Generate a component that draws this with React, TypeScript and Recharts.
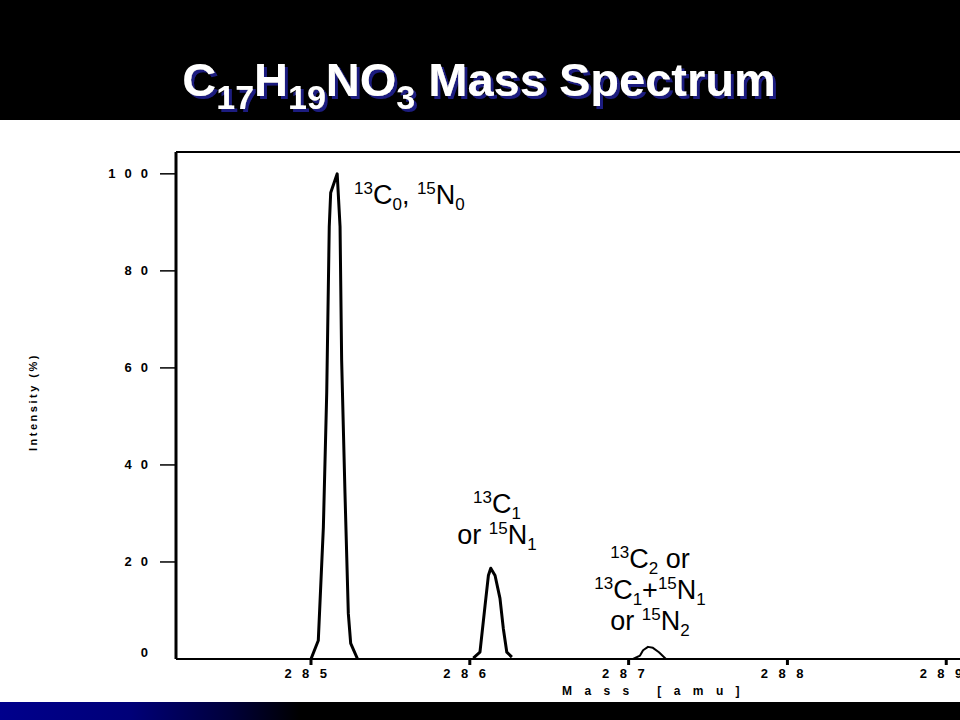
import React from "react";
import { LineChart, Line, XAxis, YAxis, ReferenceLine } from "recharts";

// peak traces (mass in amu, intensity in %)
const peak285Mass = [285.0, 285.046, 285.078, 285.099, 285.115, 285.124, 285.165, 285.183, 285.193, 285.214, 285.235, 285.25, 285.292];
const peak285Intensity = [0, 3.8, 27.2, 54.8, 89.1, 96.1, 100, 89.1, 61.6, 34.2, 9.4, 3.2, 0.1];

const peak286Mass = [286.022, 286.064, 286.096, 286.117, 286.132, 286.159, 286.19, 286.211, 286.233, 286.265];
const peak286Intensity = [0.2, 1.4, 11.0, 17.2, 18.7, 17.2, 12.5, 6.3, 1.4, 0.4];

const peak287Mass = [287.028, 287.072, 287.091, 287.122, 287.153, 287.191, 287.235];
const peak287Intensity = [0, 0.7, 1.8, 2.5, 2.3, 1.4, 0];

const massTicks = [285, 286, 287, 288, 289];
const intensityTicks = [0, 20, 40, 60, 80, 100];
const massDomain = [284.15, 289.2];
const intensityDomain = [0, 104.5];

type Seg = [string, "n" | "sup" | "sub"];

const label285: Seg[][] = [[["13", "sup"], ["C", "n"], ["0", "sub"], [", ", "n"], ["15", "sup"], ["N", "n"], ["0", "sub"]]];
const label286: Seg[][] = [
  [["13", "sup"], ["C", "n"], ["1", "sub"]],
  [["or ", "n"], ["15", "sup"], ["N", "n"], ["1", "sub"]],
];
const label287: Seg[][] = [
  [["13", "sup"], ["C", "n"], ["2", "sub"], [" or", "n"]],
  [["13", "sup"], ["C", "n"], ["1", "sub"], ["+", "n"], ["15", "sup"], ["N", "n"], ["1", "sub"]],
  [["or ", "n"], ["15", "sup"], ["N", "n"], ["2", "sub"]],
];

const toPoints = (mass: number[], intensity: number[]) =>
  mass.map((m, i) => ({ mass: m, intensity: intensity[i] }));

const FONT = "'Liberation Sans', Arial, sans-serif";
const PLOT_LEFT = 176;
const PLOT_BOTTOM = 659;

const RichText = ({ x, y, segs, anchor = "start" }: { x: number; y: number; segs: Seg[]; anchor?: string }) => {
  let cur = 0;
  return (
    <text x={x} y={y} textAnchor={anchor} fontSize={27} fontFamily={FONT} fill="#000" style={{ whiteSpace: "pre" }}>
      {segs.map(([t, k], i) => {
        const target = k === "sup" ? -10 : k === "sub" ? 6 : 0;
        const dy = target - cur;
        cur = target;
        return (
          <tspan key={i} dy={dy} fontSize={k === "n" ? 27 : 17}>
            {t}
          </tspan>
        );
      })}
    </text>
  );
};

const IntensityTick = (props: any) => {
  const { y, payload } = props;
  const zero = payload.value === 0;
  return (
    <g>
      {!zero && <line x1={PLOT_LEFT - 16} x2={PLOT_LEFT} y1={y} y2={y} stroke="#000" strokeWidth={1.5} />}
      <text
        x={PLOT_LEFT - 19}
        y={y + (zero ? -2 : 4)}
        textAnchor="end"
        fontSize={13}
        fontWeight="bold"
        fontFamily={FONT}
        letterSpacing={9}
        fill="#000"
      >
        {payload.value}
      </text>
    </g>
  );
};

const MassTick = (props: any) => {
  const { x, payload } = props;
  return (
    <g>
      <line x1={x} x2={x} y1={PLOT_BOTTOM} y2={PLOT_BOTTOM + 6} stroke="#000" strokeWidth={3} />
      <text
        x={x}
        y={PLOT_BOTTOM + 19}
        textAnchor="middle"
        fontSize={13}
        fontWeight="bold"
        fontFamily={FONT}
        letterSpacing={10.5}
        fill="#000"
      >
        {payload.value}
      </text>
    </g>
  );
};

const Title = () => {
  const segs: Seg[] = [
    ["C", "n"], ["17", "sub"], ["H", "n"], ["19", "sub"], ["N", "n"], ["O", "n"], ["3", "sub"], [" Mass Spectrum", "n"],
  ];
  let cur = 0;
  return (
    <svg width={960} height={120} style={{ position: "absolute", left: 0, top: 0 }}>
      <defs>
        <filter id="titleShadow" x="-5%" y="-20%" width="110%" height="150%">
          <feDropShadow dx={3} dy={3} stdDeviation={0.6} floodColor="#1a1a80" floodOpacity={1} />
        </filter>
      </defs>
      <text
        x={479}
        y={96}
        textAnchor="middle"
        fontSize={47}
        fontWeight="bold"
        fontFamily={FONT}
        fill="#fff"
        filter="url(#titleShadow)"
        style={{ whiteSpace: "pre" }}
      >
        {segs.map(([t, k], i) => {
          const target = k === "sub" ? 13 : 0;
          const dy = target - cur;
          cur = target;
          return (
            <tspan key={i} dy={dy} fontSize={k === "sub" ? 34 : 47}>
              {t}
            </tspan>
          );
        })}
      </text>
    </svg>
  );
};

export default function App() {
  return (
    <div
      style={{
        position: "absolute",
        left: 0,
        top: 0,
        width: 960,
        height: 720,
        overflow: "hidden",
        background: "#fff",
      }}
    >
      <div style={{ position: "absolute", left: 0, top: 0, width: 960, height: 120, background: "#000" }} />
      <Title />

      <div style={{ position: "absolute", left: 0, top: 0 }}>
        <LineChart width={978} height={720} margin={{ top: 152, right: 0, bottom: 21, left: 0 }}>
          <XAxis
            type="number"
            dataKey="mass"
            domain={massDomain}
            ticks={massTicks}
            allowDataOverflow
            height={40}
            axisLine={{ stroke: "#000", strokeWidth: 2 }}
            tickLine={false}
            tick={MassTick}
            interval={0}
          />
          <YAxis
            type="number"
            domain={intensityDomain}
            ticks={intensityTicks}
            allowDataOverflow
            width={176}
            axisLine={{ stroke: "#000", strokeWidth: 3 }}
            tickLine={false}
            tick={IntensityTick}
            interval={0}
          />
          <ReferenceLine y={intensityDomain[1]} stroke="#000" strokeWidth={2} />
          <Line data={toPoints(peak285Mass, peak285Intensity)} dataKey="intensity" type="linear" stroke="#000" strokeWidth={3} strokeLinejoin="round" dot={false} isAnimationActive={false} />
          <Line data={toPoints(peak286Mass, peak286Intensity)} dataKey="intensity" type="linear" stroke="#000" strokeWidth={3} strokeLinejoin="round" dot={false} isAnimationActive={false} />
          <Line data={toPoints(peak287Mass, peak287Intensity)} dataKey="intensity" type="linear" stroke="#000" strokeWidth={2} strokeLinejoin="round" dot={false} isAnimationActive={false} />
        </LineChart>
      </div>

      <svg width={960} height={720} style={{ position: "absolute", left: 0, top: 0, pointerEvents: "none" }}>
        <text
          transform="translate(37, 402) rotate(-90)"
          textAnchor="middle"
          fontSize={11}
          fontWeight="bold"
          fontFamily={FONT}
          letterSpacing={2.5}
          fill="#000"
        >
          Intensity (%)
        </text>
        <text x={562} y={695} fontSize={12} fontWeight="bold" fontFamily={FONT} letterSpacing={12.4} fill="#000">
          Mass [amu]
        </text>
        {label285.map((segs, i) => (
          <RichText key={i} x={354} y={204} segs={segs} />
        ))}
        {label286.map((segs, i) => (
          <RichText key={i} x={497} y={513 + i * 31} segs={segs} anchor="middle" />
        ))}
        {label287.map((segs, i) => (
          <RichText key={i} x={650} y={568 + i * 31} segs={segs} anchor="middle" />
        ))}
      </svg>

      <div
        style={{
          position: "absolute",
          left: 0,
          top: 702,
          width: 960,
          height: 18,
          background: "linear-gradient(to right, #00008c 0px, #000078 130px, #00003a 230px, #000 300px, #000 960px)",
        }}
      />
    </div>
  );
}
